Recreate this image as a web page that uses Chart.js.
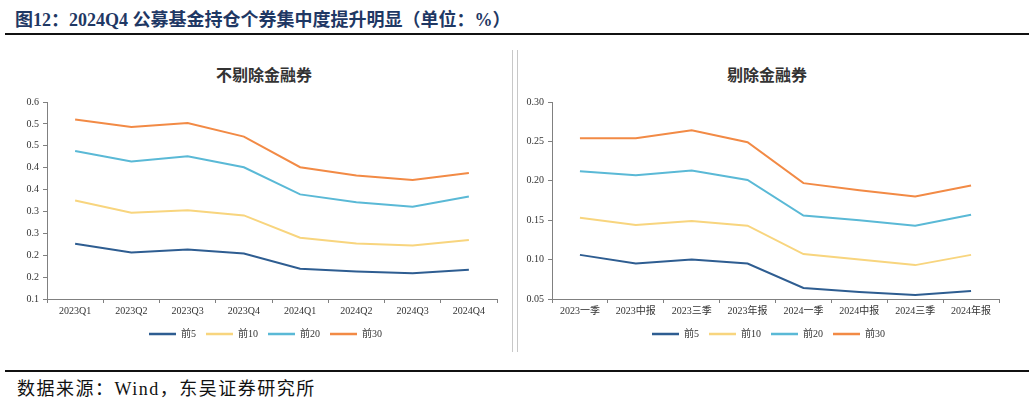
<!DOCTYPE html>
<html>
<head>
<meta charset="utf-8">
<script src="https://cdn.jsdelivr.net/npm/chart.js@4.4.1/dist/chart.umd.min.js"></script>
<style>
body { margin: 0; width: 1032px; height: 401px; background: #fff; position: relative; overflow: hidden;
  font-family: "Liberation Serif", "Noto Sans CJK SC", serif; }
#head { position: absolute; left: 15px; top: 5px; font-size: 18px; font-weight: bold; color: #1f3864; white-space: nowrap; }
#topline { position: absolute; left: 5px; top: 33px; width: 1024px; height: 2px; background: #111; }
#botline { position: absolute; left: 5px; top: 370px; width: 1024px; height: 2px; background: #111; }
#src { position: absolute; left: 17px; top: 374px; font-size: 18px; letter-spacing: 1.5px; color: #111; white-space: nowrap; }
.sep { position: absolute; top: 50px; height: 302px; width: 1px; background: #c8c8c8; }
.ttl { position: absolute; top: 62px; font-size: 16px; font-weight: bold; color: #333; white-space: nowrap; transform: translateX(-50%); }
.wrap { position: absolute; top: 40px; height: 320px; }
</style>
</head>
<body>
<div id="head">图12：2024Q4 公募基金持仓个券集中度提升明显（单位：%）</div>
<div id="topline"></div>
<div class="sep" style="left:512px"></div>
<div class="sep" style="left:517px"></div>
<div class="ttl" style="left:264px">不剔除金融券</div>
<div class="ttl" style="left:767px">剔除金融券</div>
<div class="wrap" style="left:0px;width:510px"><canvas id="c1"></canvas></div>
<div class="wrap" style="left:518px;width:514px"><canvas id="c2"></canvas></div>
<div id="botline"></div>
<div id="src">数据来源：Wind，东吴证券研究所</div>
<script>
// 不剔除金融券
var labels1 = ['2023Q1', '2023Q2', '2023Q3', '2023Q4', '2024Q1', '2024Q2', '2024Q3', '2024Q4'];
var top5a = [0.226, 0.206, 0.213, 0.204, 0.169, 0.163, 0.159, 0.167];
var top10a = [0.325, 0.297, 0.303, 0.291, 0.240, 0.227, 0.222, 0.235];
var top20a = [0.438, 0.414, 0.426, 0.401, 0.339, 0.321, 0.311, 0.334];
var top30a = [0.510, 0.493, 0.502, 0.471, 0.401, 0.382, 0.372, 0.388];

// 剔除金融券
var labels2 = ['2023一季', '2023中报', '2023三季', '2023年报', '2024一季', '2024中报', '2024三季', '2024年报'];
var top5b = [0.106, 0.095, 0.100, 0.095, 0.064, 0.059, 0.055, 0.060];
var top10b = [0.153, 0.144, 0.149, 0.143, 0.107, 0.100, 0.093, 0.106];
var top20b = [0.212, 0.207, 0.213, 0.201, 0.156, 0.150, 0.143, 0.157];
var top30b = [0.254, 0.254, 0.264, 0.249, 0.197, 0.188, 0.180, 0.194];

var names = ['前5', '前10', '前20', '前30'];
var colors = ['#2e5d91', '#f8d57e', '#5ab9d6', '#f28a45'];
var fontFam = '"Liberation Serif", "Noto Sans CJK SC", serif';

function makeSets(arrs) {
  return arrs.map(function (d, i) {
    return { label: names[i], data: d, borderColor: colors[i], backgroundColor: colors[i],
      borderWidth: 2, pointRadius: 0, tension: 0, fill: false };
  });
}

// nudges the legend sideways after layout
var legendShift = {
  id: 'legendShift',
  afterLayout: function (chart, args, opts) {
    var lg = chart.legend;
    if (lg) { lg.left += opts.dx; lg.right += opts.dx; }
  }
};

function makeChart(id, labels, arrs, yopt, yWidth, padRight, dx) {
  return new Chart(document.getElementById(id), {
    type: 'line',
    data: { labels: labels, datasets: makeSets(arrs) },
    plugins: [legendShift],
    options: {
      responsive: true, maintainAspectRatio: false, animation: false,
      layout: { padding: { top: 62, left: 0, right: padRight, bottom: 11 } },
      plugins: {
        legendShift: { dx: dx },
        title: { display: false },
        tooltip: { enabled: false },
        legend: {
          position: 'bottom',
          labels: {
            boxWidth: 27, boxHeight: 0, padding: 10, color: '#333',
            font: { family: fontFam, size: 10 },
            generateLabels: function (chart) {
              return chart.data.datasets.map(function (ds, i) {
                return { text: ds.label, strokeStyle: ds.borderColor, fillStyle: ds.borderColor,
                  lineWidth: 2.5, datasetIndex: i, fontColor: '#333' };
              });
            }
          }
        }
      },
      scales: {
        x: {
          offset: true,
          grid: { display: true, drawOnChartArea: false, drawTicks: true, tickLength: 4, offset: true, color: '#808080' },
          border: { color: '#808080', width: 1 },
          ticks: { color: '#333', font: { family: fontFam, size: 10 }, maxRotation: 0, autoSkip: false, padding: 2 },
          afterFit: function (s) { s.height = 20; }
        },
        y: Object.assign({
          grid: { display: true, drawOnChartArea: false, drawTicks: true, tickLength: 4, color: '#808080' },
          border: { color: '#808080', width: 1 },
          afterFit: function (s) { s.width = yWidth; }
        }, yopt)
      }
    }
  });
}

makeChart('c1', labels1, [top5a, top10a, top20a, top30a], {
  min: 0.1, max: 0.55,
  ticks: { stepSize: 0.05, color: '#333', font: { family: fontFam, size: 10 }, padding: 4,
    callback: function (v) { return (Math.round(v * 10 + 1e-9) / 10).toFixed(1); } }
}, 47, 13, 17);

makeChart('c2', labels2, [top5b, top10b, top20b, top30b], {
  min: 0.05, max: 0.30,
  ticks: { stepSize: 0.05, color: '#333', font: { family: fontFam, size: 10 }, padding: 4,
    callback: function (v) { return v.toFixed(2); } }
}, 34, 33, 10);
</script>
</body>
</html>
